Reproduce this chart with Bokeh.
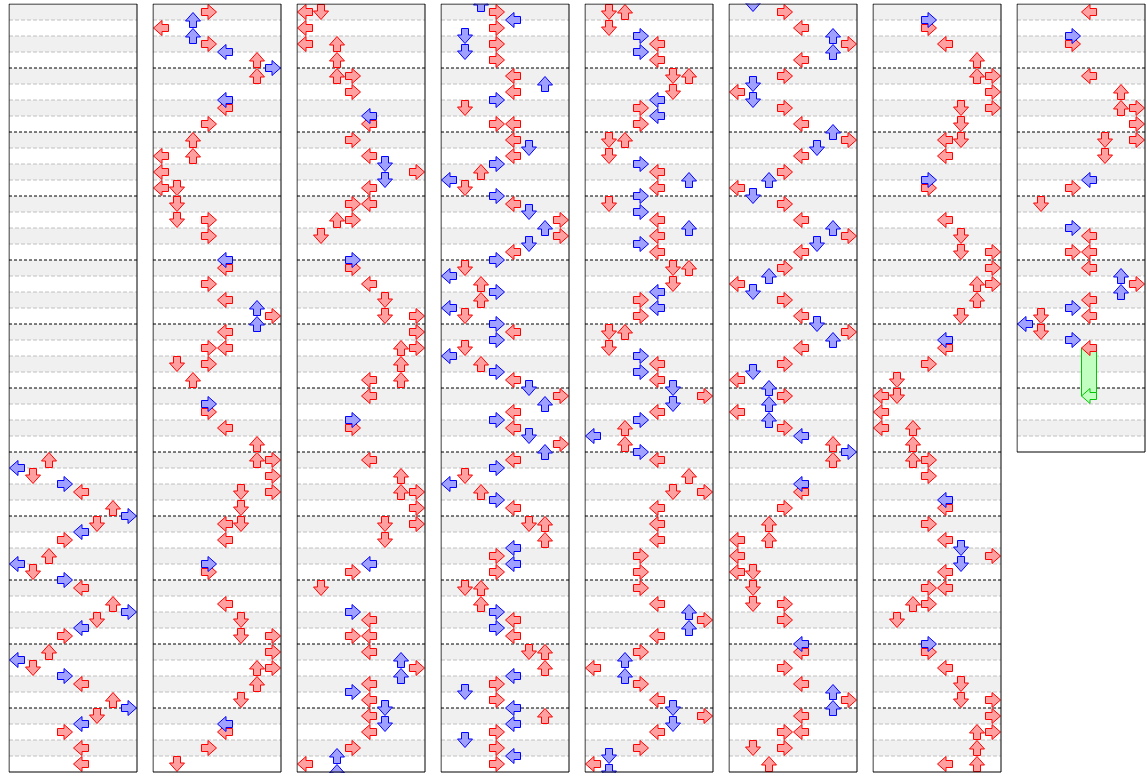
from bokeh.plotting import figure
from bokeh.layouts import row
from bokeh.models import Range1d, ColumnDataSource
from bokeh.embed import file_html
from bokeh.resources import INLINE

# ---------------- data ----------------
LANE_DIRECTIONS = ["L", "D", "U", "R", "L", "D", "U", "R"]
PANEL_BEATS = [48, 48, 48, 48, 48, 48, 48, 28]
EIGHTHS_PER_PANEL = 96

# (eighth-note index within panel, lanes)
P1 = [(56,"2"),(57,"0"),(58,"1"),(59,"3"),(60,"4"),(62,"6"),(63,"7"),(64,"5"),(65,"4"),(66,"3"),
      (68,"2"),(69,"0"),(70,"1"),(71,"3"),(72,"4"),(74,"6"),(75,"7"),(76,"5"),(77,"4"),(78,"3"),
      (80,"2"),(81,"0"),(82,"1"),(83,"3"),(84,"4"),(86,"6"),(87,"7"),(88,"5"),(89,"4"),(90,"3"),
      (92,"4"),(94,"4")]
P2 = [(0,"3"),(1,"2"),(2,"0"),(3,"2"),(4,"3"),(5,"4"),(6,"6"),(7,"7"),(8,"6"),(11,"4"),(12,"4"),
      (14,"3"),(16,"2"),(18,"02"),(20,"0"),(22,"01"),(24,"1"),(26,"13"),(28,"3"),(31,"4"),(32,"4"),
      (34,"3"),(36,"4"),(37,"6"),(38,"7"),(39,"6"),(40,"4"),(42,"34"),(44,"13"),(46,"2"),(49,"3"),
      (50,"3"),(52,"4"),(54,"6"),(56,"67"),(58,"7"),(60,"57"),(62,"5"),(64,"45"),(66,"4"),(69,"3"),
      (70,"3"),(74,"4"),(76,"5"),(78,"57"),(80,"7"),(82,"67"),(84,"6"),(86,"5"),(89,"4"),(90,"4"),
      (92,"3"),(94,"1")]
P3 = [(0,"01"),(2,"0"),(4,"02"),(6,"2"),(8,"23"),(10,"3"),(13,"4"),(14,"4"),(16,"3"),(18,"4"),
      (19,"5"),(20,"7"),(21,"5"),(22,"4"),(24,"34"),(26,"23"),(28,"1"),(31,"3"),(32,"3"),(34,"4"),
      (36,"5"),(38,"57"),(40,"7"),(42,"67"),(44,"6"),(46,"46"),(48,"4"),(51,"3"),(52,"3"),(56,"4"),
      (58,"6"),(60,"67"),(62,"7"),(64,"57"),(66,"5"),(69,"4"),(70,"3"),(72,"1"),(75,"3"),(76,"4"),
      (78,"34"),(80,"4"),(81,"6"),(82,"7"),(83,"6"),(84,"4"),(85,"3"),(86,"4"),(87,"5"),(88,"4"),
      (89,"5"),(90,"4"),(92,"3"),(93,"2"),(94,"0"),(95,"2")]
P4 = [(0,"3"),(1,"4"),(2,"3"),(3,"1"),(4,"3"),(5,"1"),(6,"3"),(8,"4"),(9,"6"),(10,"4"),(11,"3"),
      (12,"1"),(14,"34"),(16,"4"),(17,"5"),(18,"4"),(19,"3"),(20,"2"),(21,"0"),(22,"1"),(23,"3"),
      (24,"4"),(25,"5"),(26,"7"),(27,"6"),(28,"7"),(29,"5"),(30,"4"),(31,"3"),(32,"1"),(33,"0"),
      (34,"2"),(35,"3"),(36,"2"),(37,"0"),(38,"1"),(39,"3"),(40,"4"),(41,"3"),(42,"1"),(43,"0"),
      (44,"2"),(45,"3"),(46,"4"),(47,"5"),(48,"7"),(49,"6"),(50,"4"),(51,"3"),(52,"4"),(53,"5"),
      (54,"7"),(55,"6"),(56,"4"),(57,"3"),(58,"1"),(59,"0"),(60,"2"),(61,"3"),(62,"4"),(64,"56"),
      (66,"6"),(67,"4"),(68,"3"),(69,"4"),(70,"3"),(72,"12"),(74,"2"),(75,"3"),(76,"4"),(77,"3"),
      (78,"4"),(80,"56"),(82,"6"),(83,"4"),(84,"3"),(85,"1"),(86,"3"),(87,"4"),(88,"6"),(89,"4"),
      (90,"3"),(91,"1"),(92,"3"),(93,"4"),(94,"3")]
P5 = [(0,"12"),(2,"1"),(3,"3"),(4,"4"),(5,"3"),(6,"4"),(8,"56"),(10,"5"),(11,"4"),(12,"3"),
      (13,"4"),(14,"3"),(16,"12"),(18,"1"),(19,"3"),(20,"4"),(21,"6"),(22,"4"),(23,"3"),(24,"1"),
      (25,"3"),(26,"4"),(27,"6"),(28,"4"),(29,"3"),(30,"4"),(32,"56"),(34,"5"),(35,"4"),(36,"3"),
      (37,"4"),(38,"3"),(40,"12"),(42,"1"),(43,"3"),(44,"4"),(45,"3"),(46,"4"),(47,"5"),(48,"7"),
      (49,"5"),(50,"4"),(51,"3"),(52,"2"),(53,"0"),(54,"2"),(55,"3"),(56,"4"),(58,"6"),(60,"57"),
      (62,"4"),(64,"4"),(66,"4"),(68,"3"),(70,"3"),(72,"3"),(74,"4"),(75,"6"),(76,"7"),(77,"6"),
      (78,"4"),(80,"3"),(81,"2"),(82,"0"),(83,"2"),(84,"3"),(86,"4"),(87,"5"),(88,"7"),(89,"5"),
      (90,"4"),(92,"3"),(93,"1"),(94,"0"),(95,"1")]
P6 = [(0,"3"),(2,"4"),(3,"6"),(4,"7"),(5,"6"),(6,"4"),(8,"3"),(9,"1"),(10,"0"),(11,"1"),(12,"3"),
      (14,"4"),(15,"6"),(16,"7"),(17,"5"),(18,"4"),(20,"3"),(21,"2"),(22,"0"),(23,"1"),(24,"3"),
      (26,"4"),(27,"6"),(28,"7"),(29,"5"),(30,"4"),(32,"3"),(33,"2"),(34,"0"),(35,"1"),(36,"3"),
      (38,"4"),(39,"5"),(40,"7"),(41,"6"),(42,"4"),(44,"3"),(45,"1"),(46,"0"),(47,"2"),(48,"3"),
      (49,"2"),(50,"0"),(51,"2"),(52,"3"),(53,"4"),(54,"6"),(55,"7"),(56,"6"),(59,"4"),(60,"4"),
      (62,"3"),(64,"2"),(66,"02"),(68,"0"),(70,"01"),(72,"1"),(74,"13"),(76,"3"),(79,"4"),(80,"4"),
      (82,"3"),(84,"4"),(85,"6"),(86,"7"),(87,"6"),(88,"4"),(90,"34"),(92,"13"),(94,"2")]
P7 = [(1,"3"),(2,"3"),(4,"4"),(6,"6"),(8,"67"),(10,"7"),(12,"57"),(14,"5"),(16,"45"),(18,"4"),
      (21,"3"),(22,"3"),(26,"4"),(28,"5"),(30,"57"),(32,"7"),(34,"67"),(36,"6"),(38,"5"),(41,"4"),
      (42,"4"),(44,"3"),(46,"1"),(48,"01"),(50,"0"),(52,"02"),(54,"2"),(56,"23"),(58,"3"),(61,"4"),
      (62,"4"),(64,"3"),(66,"4"),(67,"5"),(68,"7"),(69,"5"),(70,"4"),(72,"34"),(74,"23"),(76,"1"),
      (79,"3"),(80,"3"),(82,"4"),(84,"5"),(86,"57"),(88,"7"),(90,"67"),(92,"6"),(94,"46")]
P8 = [(0,"4"),(3,"3"),(4,"3"),(8,"4"),(10,"6"),(12,"67"),(14,"7"),(16,"57"),(18,"5"),(21,"4"),
      (22,"3"),(24,"1"),(27,"3"),(28,"4"),(30,"34"),(32,"4"),(33,"6"),(34,"7"),(35,"6"),(36,"4"),
      (37,"3"),(38,"14"),(39,"0"),(40,"1"),(41,"3"),(42,"4")]
PANELS = [P1, P2, P3, P4, P5, P6, P7, P8]

# freeze arrow: panel index, lane, start eighth, end eighth
FREEZE_PANEL = 7
FREEZE_LANE = 4
FREEZE_START = 42
FREEZE_END = 48

# ---------------- styling ----------------
PX = 1.0 / 16.0
RED_FILL, RED_LINE = "#ffa0a0", "#ff0000"
BLUE_FILL, BLUE_LINE = "#a0a0ff", "#0000ff"
GREEN_FILL, GREEN_LINE = "#c0ffc0", "#00c800"
STRIPE = "#f0f0f0"

ARROW_UP = [(0, -7.5), (7.5, 1.0), (3.5, 1.0), (3.5, 7.5), (-3.5, 7.5), (-3.5, 1.0), (-7.5, 1.0)]


def arrow_shape(direction, cx, cy):
    if direction == "U":
        pts = ARROW_UP
    elif direction == "D":
        pts = [(x, -y) for x, y in ARROW_UP]
    elif direction == "L":
        pts = [(y, x) for x, y in ARROW_UP]
    else:
        pts = [(-y, x) for x, y in ARROW_UP]
    return [cx + x * PX for x, y in pts], [cy + y * PX for x, y in pts]


# global note list
all_notes = []
for pi, pnotes in enumerate(PANELS):
    for k, lanes in pnotes:
        for ch in lanes:
            all_notes.append((pi * EIGHTHS_PER_PANEL + k, int(ch)))

figs = []
for pi, beats in enumerate(PANEL_BEATS):
    h = beats * 16 + 2
    w = 130
    p = figure(width=w, height=h, output_backend="svg", toolbar_location=None,
               x_axis_location=None, y_axis_location=None,
               x_range=Range1d(0, w * PX), y_range=Range1d(h * PX, 0),
               min_border=0, outline_line_color=None, align="start")
    p.grid.visible = False
    p.background_fill_color = "white"
    p.border_fill_color = "white"
    left, right = 0.5 * PX, 128.5 * PX
    off = 0.5 * PX

    # stripes
    even = [j for j in range(beats) if j % 2 == 0]
    p.quad(left=left, right=right, top=[j + off for j in even], bottom=[j + 1 + off for j in even],
           fill_color=STRIPE, line_color=None)
    # beat lines
    gray = [j for j in range(1, beats) if j % 4 != 0]
    black = [j for j in range(1, beats) if j % 4 == 0]
    p.segment(x0=left, x1=right, y0=[j + off for j in gray], y1=[j + off for j in gray],
              line_color="#c0c0c0", line_width=1, line_dash="4 2")
    p.segment(x0=left, x1=right, y0=[j + off for j in black], y1=[j + off for j in black],
              line_color="black", line_width=1, line_dash="3 2")

    # freeze
    if pi == FREEZE_PANEL:
        cx = FREEZE_LANE + 0.5 + off
        y0 = 0.5 + FREEZE_START / 2 + off
        y1 = 0.5 + FREEZE_END / 2 + off
        p.quad(left=cx - 7.5 * PX, right=cx + 7.5 * PX, top=y0, bottom=y1,
               fill_color=GREEN_FILL, line_color=GREEN_LINE, line_width=1)
        xs, ys = arrow_shape(LANE_DIRECTIONS[FREEZE_LANE], cx, y1)
        p.patch(xs, ys, fill_color=GREEN_FILL, line_color=GREEN_LINE, line_width=1)

    start = pi * EIGHTHS_PER_PANEL
    red = {"xs": [], "ys": []}
    blue = {"xs": [], "ys": []}
    for g, lane in all_notes:
        k = g - start
        if -1 <= k < beats * 2:
            cx = lane + 0.5 + off
            cy = 0.5 + k / 2 + off
            xs, ys = arrow_shape(LANE_DIRECTIONS[lane], cx, cy)
            tgt = red if k % 2 == 0 else blue
            tgt["xs"].append(xs)
            tgt["ys"].append(ys)
    p.patches("xs", "ys", source=ColumnDataSource(red), fill_color=RED_FILL,
              line_color=RED_LINE, line_width=1)
    p.patches("xs", "ys", source=ColumnDataSource(blue), fill_color=BLUE_FILL,
              line_color=BLUE_LINE, line_width=1)

    # border
    p.quad(left=left, right=right, top=off, bottom=beats + off,
           fill_color=None, line_color="black", line_width=1)
    figs.append(p)

root = row(*figs, spacing=14)
root.styles = {"margin-top": "3px", "margin-left": "8px"}

open("out.html", "w").write(file_html(root, INLINE))
